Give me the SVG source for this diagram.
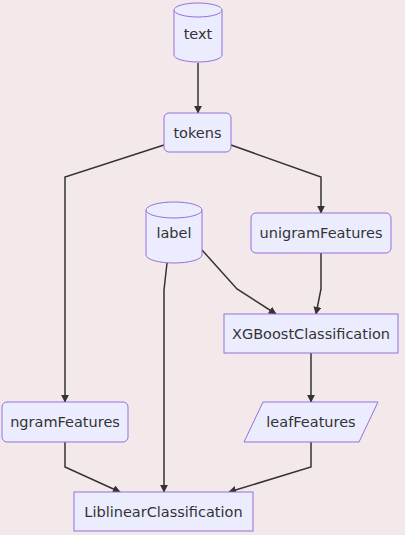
<svg xmlns="http://www.w3.org/2000/svg" width="405" height="535" viewBox="0 0 405 535">
<defs>
<marker id="arr" viewBox="0 0 10 10" refX="9" refY="5" markerWidth="8" markerHeight="8" markerUnits="userSpaceOnUse" orient="auto">
<path d="M0,0 L10,5 L0,10 z" fill="#333"/>
</marker>
<style>
.n{fill:#ECECFF;stroke:#9370DB;stroke-width:1}
.t{font-family:"DejaVu Sans",sans-serif;font-size:14.5px;fill:#333;text-anchor:middle;dominant-baseline:central}
.e{fill:none;stroke:#333;stroke-width:1.5;marker-end:url(#arr)}
</style>
</defs>
<rect width="405" height="535" fill="#f3e9ea"/>
<g id="edges">
<path class="e" d="M198,63 L198,113"/>
<path class="e" d="M164,145 L65,177 L65,402"/>
<path class="e" d="M231,145 L321,177 L321,213"/>
<path class="e" d="M202,250 L237,289 L276,314"/>
<path class="e" d="M321,253 L321,289 L316,314"/>
<path class="e" d="M311,353 L311,402"/>
<path class="e" d="M65,442 L65,467 L120,492"/>
<path class="e" d="M167,263 L164,290 L164,492"/>
<path class="e" d="M311,442 L311,467 L229,492"/>
</g>
<g id="text">
<path class="n" d="M174,10 A24,7 0 0 1 222,10 L222,55 A24,7 0 0 1 174,55 Z"/>
<path class="n" d="M174,10 A24,7 0 0 0 222,10"/>
<text class="t" x="198" y="34">text</text>
</g>
<g id="tokens">
<rect class="n" x="164" y="113" width="67" height="39" rx="5"/>
<text class="t" x="197.5" y="132.5">tokens</text>
</g>
<g id="label">
<path class="n" d="M146,210 A28,8 0 0 1 202,210 L202,255 A28,8 0 0 1 146,255 Z"/>
<path class="n" d="M146,210 A28,8 0 0 0 202,210"/>
<text class="t" x="174" y="233">label</text>
</g>
<g id="unigramFeatures">
<rect class="n" x="251" y="213" width="140" height="40" rx="5"/>
<text class="t" x="321" y="233">unigramFeatures</text>
</g>
<g id="XGBoostClassification">
<rect class="n" x="224" y="314" width="174" height="39"/>
<text class="t" x="311" y="333.5">XGBoostClassification</text>
</g>
<g id="ngramFeatures">
<rect class="n" x="2" y="402" width="126" height="40" rx="5"/>
<text class="t" x="65" y="422">ngramFeatures</text>
</g>
<g id="leafFeatures">
<polygon class="n" points="263,402 378,402 359,442 244,442"/>
<text class="t" x="311" y="422">leafFeatures</text>
</g>
<g id="LiblinearClassification">
<rect class="n" x="74" y="492" width="179" height="39"/>
<text class="t" x="163.5" y="511.5">LiblinearClassification</text>
</g>
</svg>
